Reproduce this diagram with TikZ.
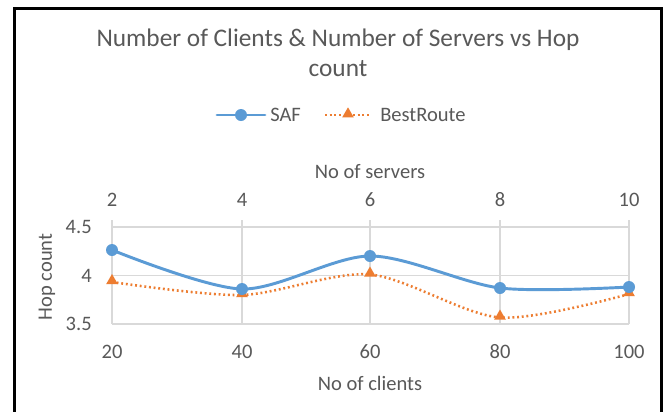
\documentclass[tikz,border=0pt]{standalone}
\usepackage{fontspec}
\setmainfont{Carlito}
\usetikzlibrary{shapes.geometric}
\definecolor{txt}{HTML}{595959}
\definecolor{safc}{HTML}{5B9BD5}
\definecolor{brc}{HTML}{ED7D31}
\definecolor{gridc}{HTML}{D9D9D9}
\begin{document}
\begin{tikzpicture}[x=0.75pt,y=-0.75pt,
  lbl/.style={text=txt,font=\fontsize{15.4}{18}\selectfont,inner sep=0pt},
  ttl/.style={text=txt,font=\fontsize{19}{22.5}\selectfont,inner sep=0pt,align=center},
  gridline/.style={draw=gridc,line width=0.8pt},
  safline/.style={draw=safc,line width=2.2pt,line cap=round},
  brline/.style={draw=brc,line width=1.9pt,dash pattern=on 1.4pt off 2.1pt},
  safmark/.style={circle,fill=safc,minimum size=9pt,inner sep=0pt},
  brmark/.style={regular polygon,regular polygon sides=3,fill=brc,minimum size=10pt,inner sep=0pt},
  frameline/.style={draw=black,line width=2.25pt}
]
\useasboundingbox (0,0) rectangle (668,411);
\fill[white] (0,0) rectangle (668,411);
% frame
\coordinate (fbl) at (14.5,412);
\coordinate (ftl) at (14.5,8);
\coordinate (ftr) at (661,8);
\coordinate (fbr) at (661,412);
\draw[frameline] (fbl) -- (ftl) -- (ftr) -- (fbr);
% title
\node[ttl] (title) at (338,53) {Number of Clients \& Number of Servers vs Hop\\count};
% legend
\coordinate (la) at (217,115);
\coordinate (lb) at (265,115);
\coordinate (lc) at (325,115);
\coordinate (ld) at (371,115);
\draw[safline] (la) -- (lb);
\node[safmark] (lsaf) at (241,115) {};
\node[lbl,anchor=west] (tsaf) at (270,115) {SAF};
\draw[brline] (lc) -- (ld);
\node[brmark] (lbr) at (348,114) {};
\node[lbl,anchor=west] (tbr) at (380,115) {BestRoute};
% grid
\coordinate (g1t) at (112,220); \coordinate (g1b) at (112,324);
\coordinate (g2t) at (242,220); \coordinate (g2b) at (242,324);
\coordinate (g3t) at (370,220); \coordinate (g3b) at (370,324);
\coordinate (g4t) at (500,220); \coordinate (g4b) at (500,324);
\coordinate (g5t) at (629,220); \coordinate (g5b) at (629,324);
\coordinate (h1l) at (112,227); \coordinate (h1r) at (629,227);
\coordinate (h2l) at (112,275.5); \coordinate (h2r) at (629,275.5);
\draw[gridline] (g1t) -- (g1b) (g2t) -- (g2b) (g3t) -- (g3b) (g4t) -- (g4b) (g5t) -- (g5b);
\draw[gridline] (h1l) -- (h1r) (h2l) -- (h2r) (g1b) -- (g5b);
% axis labels
\node[lbl] (xtt) at (370,172) {No of servers};
\node[lbl] (t2) at (112,200) {2};
\node[lbl] (t4) at (242,200) {4};
\node[lbl] (t6) at (370,200) {6};
\node[lbl] (t8) at (500,200) {8};
\node[lbl] (t10) at (629,200) {10};
\node[lbl] (b20) at (112,352) {20};
\node[lbl] (b40) at (242,352) {40};
\node[lbl] (b60) at (370,352) {60};
\node[lbl] (b80) at (500,352) {80};
\node[lbl] (b100) at (629,352) {100};
\node[lbl] (xbt) at (370,383) {No of clients};
\node[lbl,rotate=90] (ytt) at (47,277) {Hop count};
\node[lbl,anchor=east] (y45) at (92,227) {4.5};
\node[lbl,anchor=east] (y4) at (92,275.5) {4};
\node[lbl,anchor=east] (y35) at (92,324) {3.5};
% data
\coordinate (s1) at (112,250);
\coordinate (s2) at (242,289);
\coordinate (s3) at (370,256);
\coordinate (s4) at (500,288);
\coordinate (s5) at (629,287);
\coordinate (r1) at (112,282);
\coordinate (r2) at (242,295);
\coordinate (r3) at (370,274.5);
\coordinate (r4) at (500,317.5);
\coordinate (r5) at (629,294);
\draw[brline] plot[smooth] coordinates {(r1) (r2) (r3) (r4) (r5)};
\draw[safline] plot[smooth] coordinates {(s1) (s2) (s3) (s4) (s5)};
\foreach \p in {r1,r2,r3,r4,r5} \node[brmark] (m\p) at ([yshift=1pt]\p) {};
\foreach \p in {s1,s2,s3,s4,s5} \node[safmark] (m\p) at (\p) {};
\end{tikzpicture}
\end{document}
